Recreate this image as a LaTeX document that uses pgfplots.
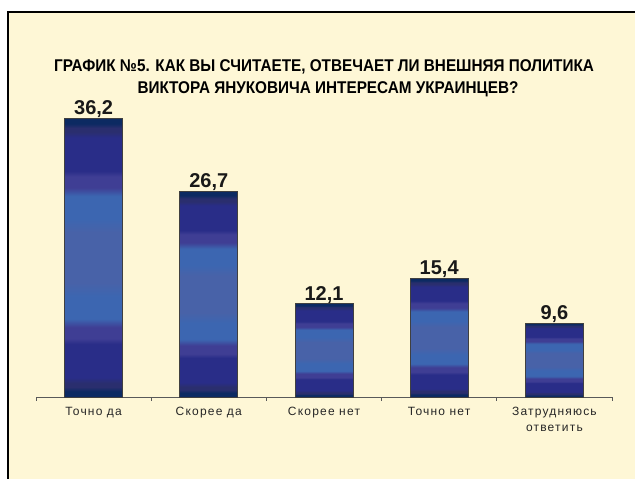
\documentclass[border=0pt]{standalone}
\usepackage{fontspec}
\setmainfont{Liberation Sans}
\newfontfamily\titlefont[FakeStretch=0.9]{Liberation Sans}
\newfontfamily\labfont[LetterSpace=10]{Liberation Sans}
\usepackage{pgfplots}
\pgfplotsset{compat=1.18}
\definecolor{cream}{RGB}{254,247,214}
\definecolor{cnavy}{RGB}{12,42,98}
\definecolor{cdk}{RGB}{42,46,110}
\definecolor{cblue}{RGB}{41,45,136}
\definecolor{cpurp}{RGB}{63,62,148}
\definecolor{clight}{RGB}{60,102,177}
\definecolor{cmid}{RGB}{72,98,168}
\pgfdeclareverticalshading{barshade}{100bp}{%
color(0bp)=(cnavy); color(25bp)=(cnavy); color(26bp)=(cnavy);
color(26.8bp)=(cdk); color(27.5bp)=(cdk);
color(28.5bp)=(cblue); color(34.5bp)=(cblue);
color(35.5bp)=(cpurp); color(37.5bp)=(cpurp);
color(39bp)=(clight); color(43bp)=(clight);
color(45.5bp)=(cmid); color(54.5bp)=(cmid);
color(57bp)=(clight); color(61bp)=(clight);
color(62.5bp)=(cpurp); color(64.5bp)=(cpurp);
color(65.5bp)=(cblue); color(71.5bp)=(cblue);
color(72.5bp)=(cdk); color(73.2bp)=(cdk);
color(74bp)=(cnavy); color(100bp)=(cnavy)}
\begin{document}
\begin{tikzpicture}
\useasboundingbox (0,0) rectangle (635pt,479pt);
\fill[white] (0,0) rectangle (635pt,479pt);
\fill[cream] (8pt,0) rectangle (635pt,467pt);
\draw[black, line width=1.5pt] (8pt,0) -- (8pt,467pt) -- (635pt,467pt);
\node[anchor=base, font=\titlefont\bfseries\fontsize{17}{19}\selectfont] at (324pt,407pt) {ГРАФИК №5. КАК ВЫ СЧИТАЕТЕ, ОТВЕЧАЕТ ЛИ ВНЕШНЯЯ ПОЛИТИКА};
\node[anchor=base, font=\titlefont\bfseries\fontsize{17}{19}\selectfont] at (328pt,385pt) {ВИКТОРА ЯНУКОВИЧА ИНТЕРЕСАМ УКРАИНЦЕВ?};
\begin{axis}[
  at={(36pt,82pt)}, anchor=south west,
  scale only axis, width=576pt, height=300pt,
  xmin=-0.5, xmax=4.5, ymin=0, ymax=38.93,
  clip=false,
  axis y line=none,
  axis x line*=bottom,
  axis line style={draw=black!65, line width=0.8pt},
  xtick={0,1,2,3,4},
  xticklabels={Точно да, Скорее да, Скорее нет, Точно нет, {Затрудняюсь\\ответить}},
  major tick length=0pt,
  xticklabel style={font=\labfont\fontsize{12}{16}\selectfont, align=center, text=black!85, yshift=-7pt},
  extra x ticks={-0.5,0.5,1.5,2.5,3.5,4.5},
  extra x tick labels={},
  extra x tick style={major tick length=4pt, tick align=outside, tick style={draw=black!65, line width=0.8pt}},
  ybar, bar width=58pt,
  nodes near coords,
  nodes near coords style={font=\bfseries\fontsize{20}{22}\selectfont, anchor=base, yshift=3.5pt, text=black!90},
  /pgf/number format/.cd, fixed, fixed zerofill, precision=1, use comma, assume math mode=true,
]
\addplot[bar shift=0pt, draw=black!75, line width=0.7pt, shade, shading=barshade] coordinates {(0,36.2)};
\addplot[bar shift=0pt, draw=black!75, line width=0.7pt, shade, shading=barshade] coordinates {(1,26.7)};
\addplot[bar shift=0pt, draw=black!75, line width=0.7pt, shade, shading=barshade] coordinates {(2,12.1)};
\addplot[bar shift=0pt, draw=black!75, line width=0.7pt, shade, shading=barshade] coordinates {(3,15.4)};
\addplot[bar shift=0pt, draw=black!75, line width=0.7pt, shade, shading=barshade] coordinates {(4,9.6)};
\end{axis}
\end{tikzpicture}
\end{document}
